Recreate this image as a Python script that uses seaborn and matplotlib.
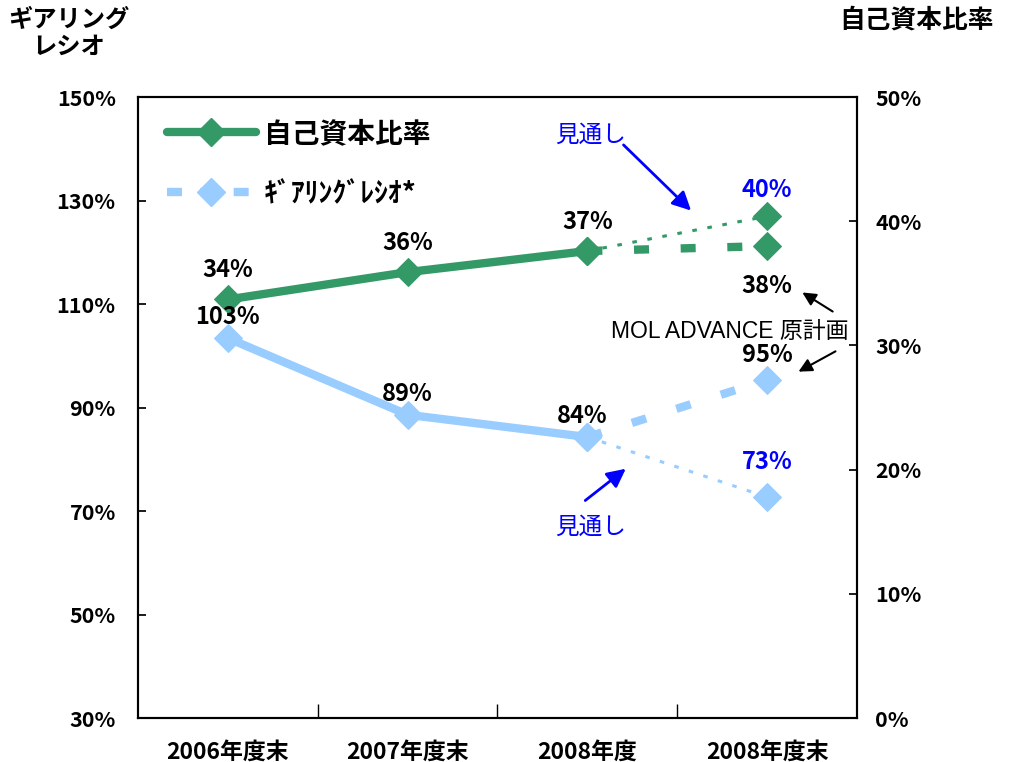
import matplotlib
matplotlib.use("Agg")
import matplotlib.pyplot as plt
import seaborn as sns
from matplotlib.lines import Line2D

# data
categories = ["2006年度末", "2007年度末", "2008年度", "2008年度末"]
equityActual = [33.7, 35.9, 37.6]      # 自己資本比率 (right axis)
equityForecast = 40.4                  # 見通し
equityPlan = 38.0                      # MOL ADVANCE 原計画
gearingActual = [103.4, 88.6, 84.3]    # ギアリングレシオ (left axis)
gearingPlan = 95.3
gearingForecast = 72.7
equityLabels = ["34%", "36%", "37%"]
gearingLabels = ["103%", "89%", "84%"]
leftTicks = [30, 50, 70, 90, 110, 130, 150]
rightTicks = [0, 10, 20, 30, 40, 50]

GREEN = "#339966"
BLUE = "#99CCFF"
JP_FONT = ["Noto Sans CJK JP", "DejaVu Sans"]

sns.set_theme(style="white")
plt.rcParams["font.family"] = JP_FONT
plt.rcParams["text.color"] = "black"
plt.rcParams["xtick.color"] = "black"
plt.rcParams["ytick.color"] = "black"

fig = plt.figure(figsize=(10.12, 7.62), dpi=100)
ax = fig.add_axes([0.1364, 0.0577, 0.7104, 0.815])
ax2 = ax.twinx()

x = list(range(len(equityActual)))
last = len(equityActual) - 1
nxt = last + 1
dashed = (0, (1.8, 3.8))
dotted = (0, (1.5, 3.5))
ms = 14.5

# gearing ratio on left axis
sns.lineplot(x=x, y=gearingActual, color=BLUE, lw=6, marker="D", markersize=ms,
             markeredgecolor=BLUE, ax=ax)
sns.lineplot(x=[last, nxt], y=[gearingActual[-1], gearingPlan], color=BLUE, lw=6,
             linestyle=dashed, marker="D", markersize=ms, markeredgecolor=BLUE, ax=ax)
sns.lineplot(x=[last, nxt], y=[gearingActual[-1], gearingForecast], color=BLUE, lw=2.2,
             linestyle=dotted, marker="D", markersize=ms, markeredgecolor=BLUE, ax=ax)

# equity ratio on right axis
sns.lineplot(x=x, y=equityActual, color=GREEN, lw=6, marker="D", markersize=ms,
             markeredgecolor=GREEN, ax=ax2)
sns.lineplot(x=[last, nxt], y=[equityActual[-1], equityPlan], color=GREEN, lw=6,
             linestyle=dashed, marker="D", markersize=ms, markeredgecolor=GREEN, ax=ax2)
sns.lineplot(x=[last, nxt], y=[equityActual[-1], equityForecast], color=GREEN, lw=2.2,
             linestyle=dotted, marker="D", markersize=ms, markeredgecolor=GREEN, ax=ax2)

# value labels (all on the top axes so they sit over the markers)
lblkw = dict(ha="center", va="center", fontsize=17, fontweight="bold",
             textcoords="offset points", zorder=5)
for i, (v, t) in enumerate(zip(equityActual, equityLabels)):
    ax2.annotate(t, (i, v), xytext=(0, 21), color="black", **lblkw)
for i, (v, t) in enumerate(zip(gearingActual, gearingLabels)):
    ax2.annotate(t, (i, v), xycoords=ax.transData,
                 xytext=(-4 if i == last else 0, 15), color="black", **lblkw)
ax2.annotate("40%", (nxt, equityForecast), xytext=(0, 19), color="blue", **lblkw)
ax2.annotate("38%", (nxt, equityPlan), xytext=(0, -29), color="black", **lblkw)
ax2.annotate("95%", (nxt, gearingPlan), xycoords=ax.transData, xytext=(0, 18),
             color="black", **lblkw)
ax2.annotate("73%", (nxt, gearingForecast), xycoords=ax.transData, xytext=(0, 25),
             color="blue", **lblkw)

# callouts
blueArrow = dict(arrowstyle="-|>", color="blue", lw=2, mutation_scale=28)
blackArrow = dict(arrowstyle="-|>", color="black", lw=1.5, mutation_scale=20)
ax2.text(2.015, 46.9, "見通し", color="blue", fontsize=17, ha="center", va="center")
ax2.annotate("", xy=(2.588, 40.7), xytext=(2.19, 46.3), arrowprops=blueArrow)
ax.text(2.015, 66.9, "見通し", color="blue", fontsize=17, ha="center", va="center")
ax.annotate("", xy=(2.226, 78.5), xytext=(1.976, 71.7), arrowprops=blueArrow)
ax2.text(2.79, 31.16, "MOL ADVANCE 原計画", color="black", fontsize=16.5,
         ha="center", va="center", family=["Liberation Sans", "Noto Sans CJK JP"])
ax2.annotate("", xy=(3.183, 34.38), xytext=(3.378, 32.61), arrowprops=blackArrow)
ax2.annotate("", xy=(3.161, 27.78), xytext=(3.394, 29.63), arrowprops=blackArrow)

# axes
ax.set_xlim(-0.5, 3.5)
ax.set_ylim(30, 150)
ax2.set_ylim(0, 50)
ax.set_xticks(range(len(categories)))
ax.set_xticklabels(categories, fontsize=16.5, fontweight="bold")
ax.set_xticks([0.5, 1.5, 2.5], minor=True)
ax.tick_params(axis="x", which="major", length=0, pad=16)
ax.tick_params(axis="x", which="minor", direction="in", length=10, color="black",
               bottom=True)
ax.set_yticks(leftTicks)
ax.set_yticklabels([f"{v}%" for v in leftTicks], fontsize=15.5, fontweight="bold")
ax.tick_params(axis="y", direction="in", length=6, color="black", left=True, pad=16)
ax2.set_yticks(rightTicks)
ax2.set_yticklabels([f"{v}%" for v in rightTicks], fontsize=15.5, fontweight="bold")
ax2.tick_params(axis="y", direction="in", length=6, color="black", right=True, pad=13)
for a in (ax, ax2):
    a.set_xlabel("")
    a.set_ylabel("")
    a.grid(False)
    for s in a.spines.values():
        s.set_color("black")
        s.set_linewidth(1.5)

# legend
handles = [
    Line2D([], [], color=GREEN, lw=6, marker="D", markersize=14),
    Line2D([], [], color=BLUE, lw=6, linestyle=(0, (1.8, 2.2)), marker="D", markersize=14),
]
ax2.legend(handles, ["自己資本比率", "ｷﾞｱﾘﾝｸﾞﾚｼｵ*"], loc="upper left",
           bbox_to_anchor=(0.005, 1.003), frameon=False, handlelength=3.2,
           labelspacing=1.15, handletextpad=0.3,
           prop={"family": JP_FONT, "weight": "bold", "size": 20})

# axis titles
fig.text(69 / 1012, 1 - 33 / 762, "ギアリング\nレシオ", ha="center", va="center",
         fontsize=17.5, fontweight="bold", linespacing=1.15)
fig.text(917 / 1012, 1 - 20 / 762, "自己資本比率", ha="center", va="center",
         fontsize=18.5, fontweight="bold")

fig.savefig("out.png", dpi=100)
